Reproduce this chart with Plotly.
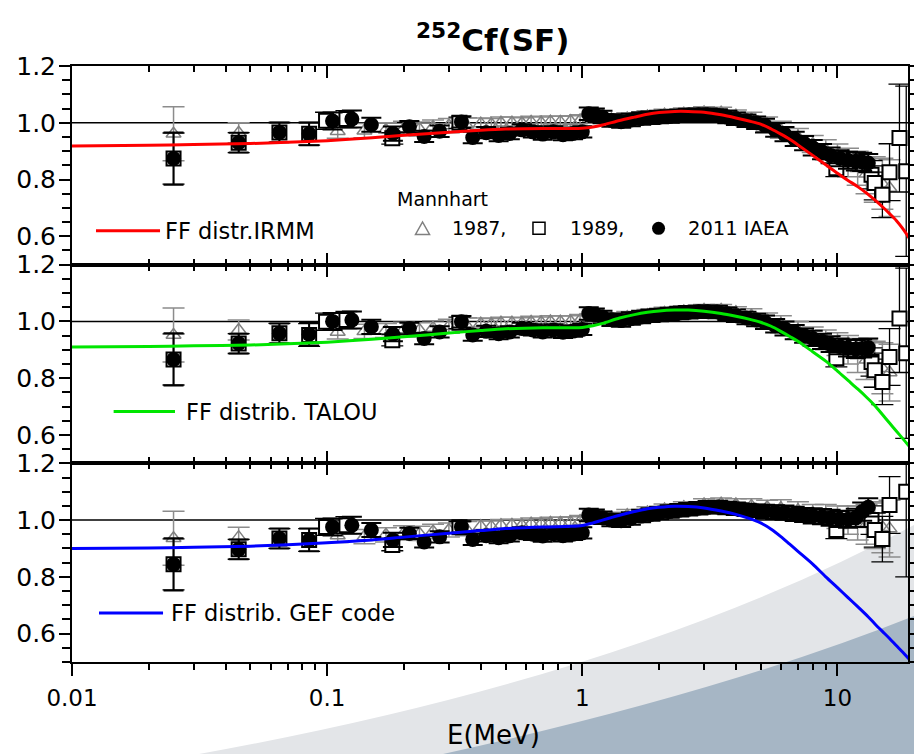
import math
import plotly.graph_objects as go

FONT = "DejaVu Sans"

# ---------------- data ----------------
# Mannhart 1987 (open triangles)
E87 = [0.025, 0.045, 0.11, 0.14, 0.17, 0.2, 0.23, 0.26, 0.3, 0.35, 0.4, 0.44, 0.48, 0.53, 0.58,
       0.63, 0.69, 0.75, 0.82, 0.9, 0.98, 1.1, 1.3, 1.5, 1.8, 2.1, 2.5, 3.0, 3.5, 4.0, 4.6, 5.3,
       6.0, 7.0, 8.0, 9.0, 10.0, 11.0, 12.0, 13.0, 14.0, 15.0, 16.0]
dR87 = [0.095, 0.035, 0.025, 0.025, 0.025, 0.025, 0.025, 0.025, 0.025, 0.025, 0.02, 0.02, 0.02, 0.02, 0.02,
        0.02, 0.02, 0.02, 0.02, 0.02, 0.02, 0.02, 0.02, 0.02, 0.02, 0.02, 0.02, 0.02, 0.02, 0.02, 0.025, 0.025,
        0.03, 0.03, 0.03, 0.035, 0.04, 0.05, 0.06, 0.07, 0.08, 0.09, 0.1]
R87_p1 = [0.961, 0.965, 0.97, 0.972, 0.975, 0.98, 0.978, 0.985, 0.99, 0.993, 0.997, 0.995, 1.0, 1.0, 0.998,
          1.003, 1.0, 1.004, 1.003, 1.005, 1.008, 1.025, 1.012, 1.015, 1.022, 1.028, 1.032, 1.036, 1.035, 1.025, 1.012, 0.995,
          0.975, 0.95, 0.925, 0.905, 0.885, 0.86, 0.84, 0.82, 0.8, 0.785, 0.77]
R87_p2 = [0.952, 0.97, 0.963, 0.965, 0.968, 0.972, 0.97, 0.977, 0.983, 0.988, 0.992, 0.99, 0.995, 0.995, 0.993,
          0.998, 0.996, 1.0, 0.999, 1.0, 1.004, 1.022, 1.01, 1.015, 1.022, 1.03, 1.035, 1.04, 1.04, 1.032, 1.02, 1.005,
          0.99, 0.97, 0.95, 0.935, 0.92, 0.9, 0.88, 0.865, 0.85, 0.835, 0.82]
R87_p3 = [0.936, 0.94, 0.946, 0.942, 0.948, 0.955, 0.953, 0.96, 0.965, 0.97, 0.978, 0.977, 0.982, 0.983, 0.982,
          0.987, 0.986, 0.99, 0.99, 0.992, 0.996, 1.015, 1.008, 1.017, 1.027, 1.037, 1.045, 1.055, 1.058, 1.055, 1.05, 1.045,
          1.042, 1.035, 1.025, 1.02, 1.01, 1.0, 0.99, 0.985, 0.98, 0.975, 0.97]

# Mannhart 1989 (open squares)
E89 = [0.025, 0.045, 0.065, 0.085, 0.099, 0.119, 0.18, 0.33, 9.9, 13.6, 14.0, 15.0, 16.0, 17.5, 18.6]
dR89 = [0.09, 0.035, 0.035, 0.04, 0.03, 0.03, 0.02, 0.02, 0.03, 0.05, 0.06, 0.08, 0.1, 0.19, 0.3]
R89_p1 = [0.874, 0.93, 0.966, 0.961, 1.007, 1.013, 0.945, 1.0, 0.84, 0.817, 0.788, 0.746, 0.826, 0.946, 0.829]
R89_p2 = [0.866, 0.922, 0.958, 0.952, 0.999, 1.005, 0.934, 0.995, 0.87, 0.857, 0.828, 0.787, 0.875, 1.01, 0.888]
R89_p3 = [0.844, 0.897, 0.935, 0.93, 0.976, 0.982, 0.912, 0.975, 0.965, 1.0, 0.965, 0.933, 1.053, None, 1.10]

# 2011 IAEA evaluation (filled circles)
E11 = [0.025, 0.045, 0.065, 0.085, 0.105, 0.125, 0.149, 0.181, 0.21, 0.24, 0.276, 0.336, 0.372,
       0.42, 0.47, 0.52, 0.58, 0.64, 0.70, 0.77, 0.84, 0.92, 1.0, 1.06, 1.12, 1.2, 1.3, 1.42, 1.55,
       1.7, 1.85, 2.0, 2.2, 2.4, 2.6, 2.85, 3.1, 3.4, 3.7, 4.0, 4.4, 4.8, 5.2, 5.7, 6.2, 6.8, 7.4,
       8.0, 8.7, 9.4, 10.2, 11.0, 11.8, 12.5, 13.2]
dR11 = [0.092, 0.035, 0.035, 0.04, 0.03, 0.03, 0.025, 0.025, 0.02, 0.02, 0.02, 0.02, 0.02,
        0.02, 0.02, 0.02, 0.02, 0.02, 0.02, 0.02, 0.02, 0.02, 0.02, 0.022, 0.022, 0.022, 0.022, 0.022, 0.022,
        0.022, 0.022, 0.022, 0.022, 0.022, 0.022, 0.022, 0.022, 0.022, 0.022, 0.022, 0.022, 0.022, 0.024, 0.024, 0.025, 0.025, 0.025,
        0.027, 0.027, 0.028, 0.028, 0.03, 0.032, 0.032, 0.032]
R11_p1 = [0.874, 0.93, 0.966, 0.961, 1.006, 1.013, 0.993, 0.962, 0.986, 0.952, 0.97, 1.003, 0.948,
          0.965, 0.955, 0.962, 0.975, 0.968, 0.96, 0.968, 0.958, 0.962, 0.968, 1.032, 1.028, 1.02, 1.008, 1.004, 1.01,
          1.015, 1.018, 1.02, 1.022, 1.025, 1.027, 1.028, 1.028, 1.026, 1.02, 1.014, 1.007, 1.0, 0.99, 0.975, 0.96, 0.943, 0.928,
          0.912, 0.898, 0.885, 0.875, 0.868, 0.864, 0.862, 0.858]
R11_p2 = [0.866, 0.922, 0.958, 0.955, 1.0, 1.005, 0.981, 0.955, 0.975, 0.94, 0.963, 0.999, 0.952,
          0.965, 0.957, 0.963, 0.975, 0.97, 0.963, 0.97, 0.962, 0.966, 0.972, 1.028, 1.024, 1.016, 1.006, 1.003, 1.01,
          1.016, 1.02, 1.023, 1.026, 1.03, 1.032, 1.034, 1.034, 1.033, 1.027, 1.02, 1.012, 1.005, 0.997, 0.985, 0.975, 0.962, 0.95,
          0.94, 0.93, 0.92, 0.912, 0.906, 0.903, 0.905, 0.908]
R11_p3 = [0.844, 0.897, 0.935, 0.93, 0.976, 0.982, 0.965, 0.93, 0.953, 0.923, 0.941, 0.976, 0.932,
          0.945, 0.938, 0.945, 0.955, 0.95, 0.944, 0.952, 0.945, 0.95, 0.955, 1.018, 1.015, 1.008, 1.0, 0.998, 1.006,
          1.014, 1.02, 1.025, 1.03, 1.035, 1.038, 1.042, 1.045, 1.046, 1.043, 1.04, 1.036, 1.033, 1.03, 1.028, 1.026, 1.022, 1.018,
          1.015, 1.012, 1.008, 1.004, 1.003, 1.008, 1.03, 1.045]

# model curves (ratio to reference spectrum)
E_model = [0.01, 0.02, 0.03, 0.05, 0.07, 0.1, 0.15, 0.2, 0.3, 0.4, 0.5, 0.7, 0.9, 1.0, 1.1, 1.2, 1.4, 1.6,
           1.8, 2.0, 2.3, 2.6, 3.0, 3.5, 4.0, 4.5, 5.0, 5.5, 6.0, 6.5, 7.0, 8.0, 9.0, 10.0, 11.0, 12.0,
           13.0, 14.0, 15.0, 16.0, 17.0, 18.0, 19.0, 20.0]
irmm = [0.918, 0.921, 0.923, 0.927, 0.931, 0.937, 0.947, 0.956, 0.967, 0.974, 0.978, 0.98, 0.98, 0.981, 0.985, 0.992, 1.008, 1.02,
        1.03, 1.036, 1.04, 1.04, 1.037, 1.028, 1.017, 1.006, 0.995, 0.978, 0.96, 0.942, 0.922, 0.885, 0.852, 0.822, 0.797, 0.775,
        0.752, 0.728, 0.704, 0.68, 0.656, 0.628, 0.597, 0.565]
talou = [0.91, 0.912, 0.914, 0.917, 0.921, 0.927, 0.937, 0.946, 0.959, 0.968, 0.974, 0.978, 0.978, 0.979, 0.985, 0.993, 1.012, 1.024,
         1.032, 1.037, 1.04, 1.04, 1.036, 1.028, 1.018, 1.008, 0.997, 0.983, 0.965, 0.947, 0.93, 0.893, 0.86, 0.825, 0.792, 0.762,
         0.733, 0.704, 0.672, 0.642, 0.614, 0.588, 0.563, 0.54]
gef = [0.90, 0.902, 0.904, 0.908, 0.913, 0.92, 0.93, 0.94, 0.954, 0.963, 0.97, 0.976, 0.978, 0.981, 0.99, 1.0, 1.017, 1.03,
       1.04, 1.045, 1.049, 1.048, 1.043, 1.032, 1.02, 1.006, 0.99, 0.968, 0.942, 0.915, 0.89, 0.845, 0.8, 0.762, 0.727, 0.695,
       0.665, 0.635, 0.608, 0.583, 0.558, 0.535, 0.512, 0.49]

model_names = ["FF distr.IRMM", "FF distrib. TALOU", "FF distrib. GEF code"]
model_colors = ["#ff0000", "#00e600", "#0000ff"]

# axis ticks
X_TICKS = [0.01, 0.1, 1, 10]
X_TICK_TEXT = ["0.01", "0.1", "1", "10"]
X_MINOR = [m * 10.0 ** d for d in (-2, -1, 0, 1) for m in range(2, 10)]
Y_TICKS = [0.6, 0.8, 1.0, 1.2]
Y_TICK_TEXT = ["0.6", "0.8", "1.0", "1.2"]
Y_MINOR = [0.5 + 0.05 * i for i in range(15)]

X_RANGE = [-2, math.log10(18.9)]
Y_RANGE = [0.5, 1.2]

# ---------------- figure ----------------
fig = go.Figure()

panels = [
    ("x", "y", R87_p1, R89_p1, R11_p1, irmm),
    ("x2", "y2", R87_p2, R89_p2, R11_p2, talou),
    ("x3", "y3", R87_p3, R89_p3, R11_p3, gef),
]

for i, (xa, ya, r87, r89, r11, model) in enumerate(panels):
    fig.add_trace(go.Scatter(
        x=E87, y=r87, xaxis=xa, yaxis=ya, mode="markers", name="Mannhart 1987",
        marker=dict(symbol="triangle-up-open", size=13, color="#808080", line=dict(width=1.5, color="#808080")),
        error_y=dict(type="data", array=dR87, color="#8c8c8c", thickness=1.5, width=11),
        showlegend=False, hoverinfo="skip"))
    fig.add_trace(go.Scatter(
        x=E89, y=r89, xaxis=xa, yaxis=ya, mode="markers", name="Mannhart 1989",
        marker=dict(symbol="square", size=14, color="white", line=dict(width=2, color="black")),
        error_y=dict(type="data", array=dR89, color="black", thickness=1.3, width=11),
        showlegend=False, hoverinfo="skip"))
    fig.add_trace(go.Scatter(
        x=E11, y=r11, xaxis=xa, yaxis=ya, mode="markers", name="2011 IAEA",
        marker=dict(symbol="circle", size=15, color="black", line=dict(width=0)),
        error_y=dict(type="data", array=dR11, color="black", thickness=2, width=10),
        showlegend=False, hoverinfo="skip"))
    fig.add_trace(go.Scatter(
        x=E_model, y=model, xaxis=xa, yaxis=ya, mode="lines", name=model_names[i],
        line=dict(color=model_colors[i], width=3, shape="spline", smoothing=0.8),
        showlegend=False, hoverinfo="skip"))

# helper trace for the top tick row of the bottom panel
fig.add_trace(go.Scatter(x=E_model, y=gef, xaxis="x4", yaxis="y3", mode="none",
                         showlegend=False, hoverinfo="skip"))

ax_line = dict(showline=True, linecolor="black", linewidth=2, showgrid=False, zeroline=False, automargin=False)


def xaxis_cfg(ticks, labels, **kw):
    d = dict(type="log", range=X_RANGE, tickvals=X_TICKS, ticktext=X_TICK_TEXT,
             ticks=ticks, ticklen=12, tickwidth=2, tickcolor="black",
             showticklabels=labels, tickfont=dict(family=FONT, size=23, color="black"),
             minor=dict(tickvals=X_MINOR, ticks=ticks, ticklen=6, tickwidth=2, tickcolor="black", showgrid=False),
             **ax_line)
    d.update(kw)
    return d


def yaxis_cfg(domain):
    return dict(domain=domain, range=Y_RANGE, tickvals=Y_TICKS, ticktext=Y_TICK_TEXT,
                ticks="outside", ticklen=11, tickwidth=2, tickcolor="black", mirror="ticks",
                tickfont=dict(family=FONT, size=25, color="black"), ticklabelstandoff=-2,
                minor=dict(tickvals=Y_MINOR, ticks="outside", ticklen=8, tickwidth=2, tickcolor="black", showgrid=False),
                **ax_line)


fig.update_layout(
    width=914, height=754,
    margin=dict(l=72, r=6, t=66, b=92),
    paper_bgcolor="white", plot_bgcolor="rgba(0,0,0,0)",
    showlegend=False,
    font=dict(family=FONT, color="black"),
    xaxis=xaxis_cfg("inside", False, anchor="y", mirror="ticks"),
    xaxis2=xaxis_cfg("inside", False, anchor="y2", mirror="ticks"),
    xaxis3=xaxis_cfg("outside", True, anchor="y3", ticklabelstandoff=2),
    xaxis4=xaxis_cfg("inside", False, anchor="y3", overlaying="x3", side="top"),
    yaxis=yaxis_cfg([2 / 3, 1.0]),
    yaxis2=yaxis_cfg([1 / 3, 2 / 3]),
    yaxis3=yaxis_cfg([0.0, 1 / 3]),
)

shapes = []
# decorative background bands (paper coordinates)
shapes.append(dict(type="path", xref="paper", yref="paper", layer="below", line=dict(width=0),
                   fillcolor="#e3e5e8",
                   path="M 0.1519,-0.1544 Q 0.6733,-0.02265 1.0072,0.2300 L 1.08,0.29 L 1.08,-0.2 L 0.10,-0.2 Z"))
shapes.append(dict(type="path", xref="paper", yref="paper", layer="below", line=dict(width=0),
                   fillcolor="#a6b6c5",
                   path="M 0.4438,-0.1544 Q 0.7785,-0.0510 1.0072,0.0772 L 1.08,0.11 L 1.08,-0.2 L 0.40,-0.2 Z"))
# unity reference line in each panel
for xa, ya in (("x", "y"), ("x2", "y2"), ("x3", "y3")):
    shapes.append(dict(type="line", xref=f"{xa} domain", yref=ya, x0=0, x1=1, y0=1.0, y1=1.0,
                       line=dict(color="black", width=1.5), layer="below"))

# legend graphics
leg_lines = [(0.0287, 0.1053, 0.7237), (0.0498, 0.1232, 0.4203), (0.0323, 0.1089, 0.0822)]
for (x0, x1, yy), c in zip(leg_lines, model_colors):
    shapes.append(dict(type="line", xref="paper", yref="paper", x0=x0, x1=x1, y0=yy, y1=yy,
                       line=dict(color=c, width=3)))
shapes.append(dict(type="path", xref="paper", yref="paper", line=dict(color="#808080", width=1.5),
                   path="M 0.4109,0.7173 L 0.4277,0.7173 L 0.4193,0.7383 Z"))
shapes.append(dict(type="rect", xref="paper", yref="paper", x0=0.5514, x1=0.5658, y0=0.7175, y1=0.7377,
                   line=dict(color="black", width=1.5), fillcolor="white"))
shapes.append(dict(type="circle", xref="paper", yref="paper", x0=0.6938, x1=0.7094, y0=0.7168, y1=0.7386,
                   line=dict(color="black", width=0), fillcolor="black"))
fig.update_layout(shapes=shapes)

ann = []


def txt(t, x, y, size, xanchor="left", yanchor="middle", bold=False):
    ann.append(dict(text=(f"<b>{t}</b>" if bold else t), x=x, y=y, xref="paper", yref="paper",
                    xanchor=xanchor, yanchor=yanchor, showarrow=False,
                    font=dict(family=FONT, size=size, color="black")))


txt("<sup>252</sup>Cf(SF)", 0.5028, 1.010, 31, xanchor="center", yanchor="bottom", bold=True)
txt("E(MeV)", 0.5036, -0.0940, 26, xanchor="center", yanchor="top")
txt(model_names[0], 0.1089, 0.7237, 22.5)
txt(model_names[1], 0.1335, 0.4203, 22.5)
txt(model_names[2], 0.1160, 0.0822, 22.5)
txt("Mannhart", 0.3864, 0.7763, 19)
txt("1987,", 0.4522, 0.7277, 19)
txt("1989,", 0.5933, 0.7277, 19)
txt("2011 IAEA", 0.7350, 0.7277, 19.5)
fig.update_layout(annotations=ann)

fig.write_html("out.html")
